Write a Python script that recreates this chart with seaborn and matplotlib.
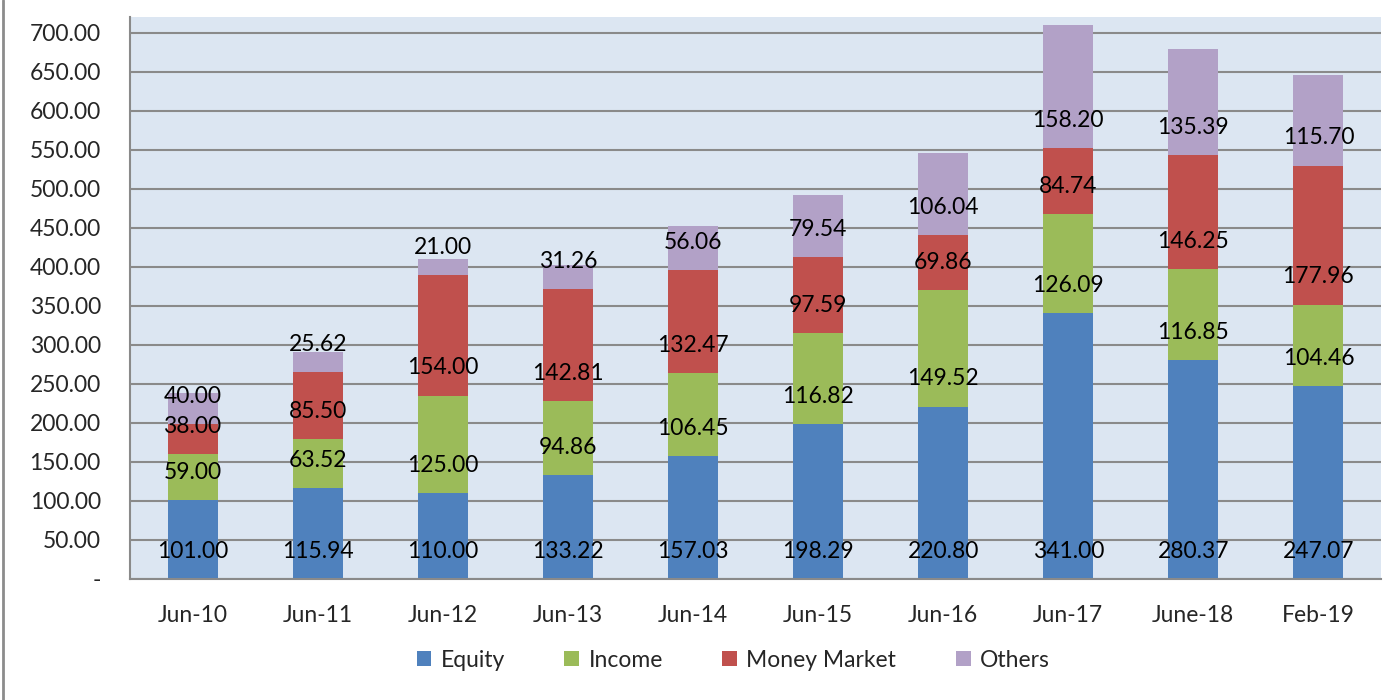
import pandas as pd
import matplotlib.pyplot as plt
import seaborn as sns
from matplotlib.patches import Patch
from matplotlib.lines import Line2D
from matplotlib.ticker import FuncFormatter, FixedLocator

# Dados
periods = ['Jun-10', 'Jun-11', 'Jun-12', 'Jun-13', 'Jun-14', 'Jun-15',
           'Jun-16', 'Jun-17', 'June-18', 'Feb-19']
equity = [101.00, 115.94, 110.00, 133.22, 157.03, 198.29, 220.80, 341.00, 280.37, 247.07]
income = [59.00, 63.52, 125.00, 94.86, 106.45, 116.82, 149.52, 126.09, 116.85, 104.46]
money_market = [38.00, 85.50, 154.00, 142.81, 132.47, 97.59, 69.86, 84.74, 146.25, 177.96]
others = [40.00, 25.62, 21.00, 31.26, 56.06, 79.54, 106.04, 158.20, 135.39, 115.70]

series = ['Equity', 'Income', 'Money Market', 'Others']
colors = ['#4F81BD', '#9BBB59', '#C0504D', '#B2A1C7']

df = pd.DataFrame({'Period': periods, 'Equity': equity, 'Income': income,
                   'Money Market': money_market, 'Others': others})
cum = df[series].cumsum(axis=1)
bases = cum - df[series]

sns.set_style('white')
plt.rcParams['font.family'] = ['Lato', 'DejaVu Sans']

fig = plt.figure(figsize=(13.86, 7), dpi=100)
ax = fig.add_axes([0.0938, 0.1729, 0.9026, 0.8028])
ax.set_facecolor('#DCE6F2')

# Barras empilhadas: desenhar os totais acumulados do topo para baixo
for name, col in reversed(list(zip(series, colors))):
    sns.barplot(x=df['Period'], y=cum[name], color=col, saturation=1,
                width=0.4, ax=ax, linewidth=0)

# Rótulos de dados
for name in series:
    for i in range(len(periods)):
        ax.annotate(f"{df[name][i]:.2f}", xy=(i, bases[name][i]), xytext=(0, 20),
                    textcoords='offset points', ha='center', va='center',
                    fontsize=16.5, color='black')

ax.set_xlim(-0.5, len(periods) - 0.5)
ax.set_ylim(0, 720)
ax.set_yticks(range(0, 701, 50))
ax.yaxis.set_major_formatter(FuncFormatter(lambda v, p: '-' if v == 0 else f"{v:.2f}"))
ax.xaxis.grid(False, which='both')
ax.yaxis.grid(True, which='major', color='#8A8A8A', linewidth=1.5)
ax.yaxis.grid(False, which='minor')
ax.set_axisbelow(True)

ax.xaxis.set_minor_locator(FixedLocator([i - 0.5 for i in range(len(periods) + 1)]))
ax.tick_params(axis='x', which='major', length=0, pad=19, labelsize=16.5)
ax.tick_params(axis='x', which='minor', length=8, color='#8A8A8A', width=1.5, direction='out')
ax.tick_params(axis='y', which='major', length=8, color='#8A8A8A', width=1.5,
               direction='out', labelsize=16.5, pad=13)
ax.set_xlabel('')
ax.set_ylabel('')

for s in ['top', 'right']:
    ax.spines[s].set_visible(False)
for s in ['left', 'bottom']:
    ax.spines[s].set_color('#8A8A8A')
    ax.spines[s].set_linewidth(1.5)

handles = [Patch(facecolor=c, edgecolor='none', label=n) for n, c in zip(series, colors)]
fig.legend(handles=handles, loc='center', bbox_to_anchor=(0.529, 0.057), ncol=4,
           frameon=False, fontsize=16.5, handlelength=0.65, handleheight=0.65,
           handletextpad=0.4, columnspacing=2.6)

fig.lines.append(Line2D([0.0025, 0.0025], [0, 1], transform=fig.transFigure,
                        color='#8C8C8C', linewidth=2))

plt.savefig('out.png', dpi=100)
